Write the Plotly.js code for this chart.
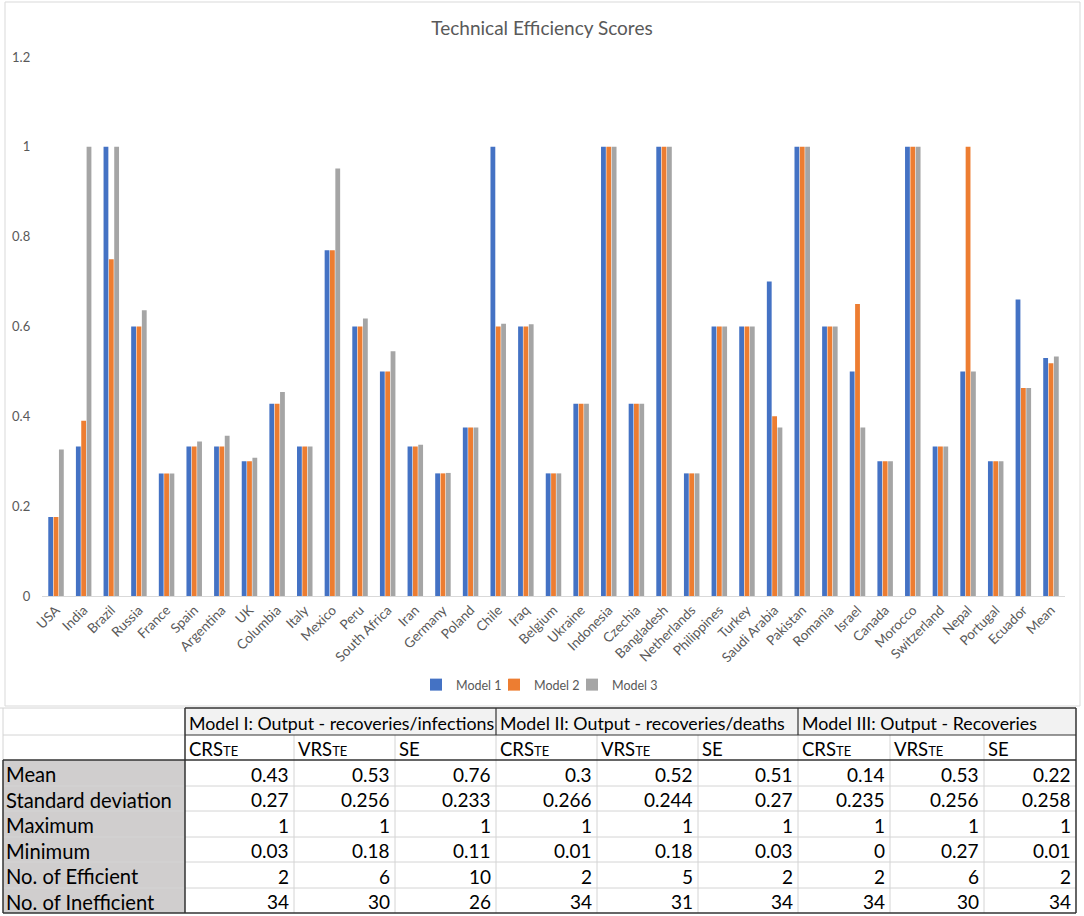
<!DOCTYPE html>
<html>
<head>
<meta charset="utf-8">
<script src="https://cdn.plot.ly/plotly-3.0.1.min.js"></script>
<style>html,body{margin:0;padding:0;background:#fff;}#chart{width:1084px;height:916px;}</style>
</head>
<body>
<div id="chart"></div>
<script>
// ---------- chart data ----------
const categories = ["USA","India","Brazil","Russia","France","Spain","Argentina","UK","Columbia","Italy","Mexico","Peru","South Africa","Iran","Germany","Poland","Chile","Iraq","Belgium","Ukraine","Indonesia","Czechia","Bangladesh","Netherlands","Philippines","Turkey","Saudi Arabia","Pakistan","Romania","Israel","Canada","Morocco","Switzerland","Nepal","Portugal","Ecuador","Mean"];
const model1 = [0.176,0.333,1,0.6,0.273,0.333,0.333,0.3,0.428,0.333,0.77,0.6,0.5,0.333,0.273,0.375,1,0.6,0.273,0.428,1,0.428,1,0.273,0.6,0.6,0.7,1,0.6,0.5,0.3,1,0.333,0.5,0.3,0.66,0.53];
const model2 = [0.176,0.39,0.75,0.6,0.273,0.333,0.333,0.3,0.428,0.333,0.77,0.6,0.5,0.333,0.273,0.375,0.6,0.6,0.273,0.428,1,0.428,1,0.273,0.6,0.6,0.4,1,0.6,0.65,0.3,1,0.333,1,0.3,0.463,0.518];
const model3 = [0.326,1,1,0.636,0.273,0.344,0.357,0.308,0.454,0.333,0.952,0.618,0.545,0.337,0.274,0.375,0.606,0.605,0.273,0.428,1,0.428,1,0.273,0.6,0.6,0.375,1,0.6,0.375,0.3,1,0.333,0.5,0.3,0.463,0.533];
const seriesNames = ["Model 1","Model 2","Model 3"];
const yTickVals = [0,0.2,0.4,0.6,0.8,1,1.2];
const yTickText = ["0","0.2","0.4","0.6","0.8","1","1.2"];

// ---------- table data ----------
const modelHeaders = ["Model I: Output - recoveries/infections","Model II: Output - recoveries/deaths","Model III: Output - Recoveries"];
const subHeaders = ["CRS|TE","VRS|TE","SE","CRS|TE","VRS|TE","SE","CRS|TE","VRS|TE","SE"];
const rowLabels = ["Mean","Standard deviation","Maximum","Minimum","No. of Efficient","No. of Inefficient"];
const rowMean   = ["0.43","0.53","0.76","0.3","0.52","0.51","0.14","0.53","0.22"];
const rowSD     = ["0.27","0.256","0.233","0.266","0.244","0.27","0.235","0.256","0.258"];
const rowMax    = ["1","1","1","1","1","1","1","1","1"];
const rowMin    = ["0.03","0.18","0.11","0.01","0.18","0.03","0","0.27","0.01"];
const rowEff    = ["2","6","10","2","5","2","2","6","2"];
const rowIneff  = ["34","30","26","34","31","34","34","30","34"];
const tableRows = [rowMean,rowSD,rowMax,rowMin,rowEff,rowIneff];

// ---------- layout geometry (pixels) ----------
const W = 1084, H = 916;
const X = px => px / W;
const Y = py => 1 - py / H;
const colEdges = [185,294,395,496,597,698,798,890,984,1076];
const modelEdges = [185,496,798,1076];
const rowEdges = [708,735,760,786,811,837,862,888,913];
const tableLeft = 3;
const colors = ["#4472C4","#ED7D31","#A5A5A5"];
const legendSymbolX = [436,514,592];
const FAM = "Lato, Open Sans, sans-serif";
const txtFont = {family:FAM, size:19, color:"#000"};

const traces = [model1,model2,model3].map((vals,i)=>({
  type:"bar", name:seriesNames[i], x:categories, y:vals,
  legend: i===0 ? "legend" : "legend"+(i+1),
  marker:{color:colors[i]}, hoverinfo:"x+y"
}));

const shapes = [];
const light = "#d4d4d4", dark = "#333333";
function line(x0,y0,x1,y1,c,w){shapes.push({type:"line",xref:"paper",yref:"paper",x0:X(x0),y0:Y(y0),x1:X(x1),y1:Y(y1),line:{color:c,width:w}});}
function rect(x0,y0,x1,y1,fill){shapes.push({type:"rect",xref:"paper",yref:"paper",x0:X(x0),y0:Y(y0),x1:X(x1),y1:Y(y1),fillcolor:fill,line:{width:0},layer:"below"});}

// chart area border
shapes.push({type:"rect",xref:"paper",yref:"paper",x0:X(5),y0:Y(2),x1:X(1080),y1:Y(706),line:{color:"#d9d9d9",width:1},fillcolor:"rgba(0,0,0,0)"});
// fills
rect(modelEdges[0],rowEdges[0],modelEdges[3],rowEdges[1],"#f2f2f2");
rect(tableLeft,rowEdges[2],colEdges[0],rowEdges[8],"#d0cece");
// light gridlines
for(let r=3;r<8;r++) line(tableLeft,rowEdges[r],colEdges[9],rowEdges[r],light,1);
for(let c=1;c<9;c++) line(colEdges[c],rowEdges[1],colEdges[c],rowEdges[8],light,1);
line(0,rowEdges[0],colEdges[0],rowEdges[0],light,1);
line(tableLeft,rowEdges[1],colEdges[0],rowEdges[1],light,1);
line(tableLeft,rowEdges[0],tableLeft,rowEdges[2],light,1);
// dark borders
line(colEdges[0],rowEdges[0],colEdges[9],rowEdges[0],dark,1.5);
line(colEdges[0],rowEdges[1],colEdges[9],rowEdges[1],dark,1.2);
line(tableLeft,rowEdges[2],colEdges[9],rowEdges[2],dark,1.5);
line(tableLeft,rowEdges[8],colEdges[9],rowEdges[8],dark,1.5);
line(tableLeft,rowEdges[2],tableLeft,rowEdges[8],dark,1.5);
line(colEdges[0],rowEdges[0],colEdges[0],rowEdges[8],dark,1.5);
line(colEdges[9],rowEdges[0],colEdges[9],rowEdges[8],dark,1.5);
line(modelEdges[1],rowEdges[0],modelEdges[1],rowEdges[1],dark,1.2);
line(modelEdges[2],rowEdges[0],modelEdges[2],rowEdges[1],dark,1.2);

const annotations = [];
function ann(text,x,y,xanchor,extra){annotations.push(Object.assign({text:text,xref:"paper",yref:"paper",x:X(x),y:Y(y),xanchor:xanchor,yanchor:"middle",showarrow:false,font:txtFont,borderpad:0},extra||{}));}
const mid = r => (rowEdges[r]+rowEdges[r+1])/2 + 1;
// model headers (clipped to cell width)
modelHeaders.forEach((t,i)=>{
  ann(t, modelEdges[i]+3, mid(0), "left", {width:modelEdges[i+1]-modelEdges[i]-4, align:"left", font:Object.assign({},txtFont,{size:17.8})});
});
// sub headers
subHeaders.forEach((t,i)=>{
  const parts = t.split("|");
  const txt = parts.length>1 ? parts[0]+'<span style="font-size:13px">'+parts[1]+'</span>' : parts[0];
  ann(txt, colEdges[i]+3, mid(1), "left", {font:Object.assign({},txtFont,{size:18.5})});
});
// row labels and values
rowLabels.forEach((lab,r)=>{
  ann(lab, tableLeft+2, mid(r+2), "left", {font:Object.assign({},txtFont,{size:20.2})});
  tableRows[r].forEach((v,c)=>{ ann(v, colEdges[c+1]-4, mid(r+2), "right"); });
});

const legendBase = {orientation:"h", xanchor:"left", y:Y(685), yanchor:"middle", font:{size:12.5,color:"#595959"}, itemwidth:30, bgcolor:"rgba(0,0,0,0)", borderwidth:0};
const layout = {
  width:W, height:H,
  margin:{l:0,r:0,t:0,b:0},
  paper_bgcolor:"#fff", plot_bgcolor:"#fff",
  font:{family:FAM, color:"#595959", size:13},
  title:{text:"Technical Efficiency Scores", x:0.5, xanchor:"center", y:Y(28), yanchor:"middle", font:{size:19, color:"#595959", family:FAM}},
  barmode:"group", bargap:0.42, bargroupgap:0.1,
  xaxis:{domain:[X(42.2),X(1064.8)], tickangle:-45, showline:true, linecolor:"#d9d9d9", linewidth:1, showgrid:false, zeroline:false, ticks:"", tickfont:{size:13.5,color:"#595959"}, fixedrange:true},
  yaxis:{domain:[Y(596),Y(57)], range:[0,1.2], tickvals:yTickVals, ticktext:yTickText, showgrid:false, zeroline:false, showline:false, ticks:"", ticklabelstandoff:11, tickfont:{size:13,color:"#595959"}, fixedrange:true},
  showlegend:true,
  legend:Object.assign({}, legendBase, {x:X(legendSymbolX[0]-20)}),
  legend2:Object.assign({}, legendBase, {x:X(legendSymbolX[1]-20)}),
  legend3:Object.assign({}, legendBase, {x:X(legendSymbolX[2]-20)}),
  shapes:shapes, annotations:annotations
};
Plotly.newPlot("chart", traces, layout, {displayModeBar:false, staticPlot:true});
</script>
</body>
</html>
